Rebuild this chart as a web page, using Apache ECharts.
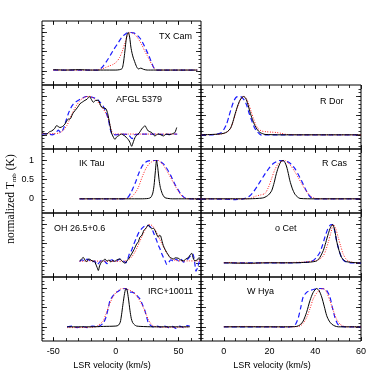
<!DOCTYPE html>
<html>
<head>
<meta charset="utf-8">
<script src="https://cdn.jsdelivr.net/npm/echarts@6/dist/echarts.min.js"></script>
<style>
  html, body { margin: 0; padding: 0; background: #fff; }
  #chart { width: 382px; height: 382px; }
</style>
</head>
<body>
<div id="chart"></div>
<script>
// ---- data: [velocity km/s, normalized T] ----
const panelNames = ['TX Cam', 'AFGL 5379', 'IK Tau', 'OH 26.5+0.6', 'IRC+10011', 'R Dor', 'R Cas', 'o Cet', 'W Hya']

const leftTicks = [-50, -40, -30, -20, -10, 0, 10, 20, 30, 40, 50, 60]
const leftMajorTicks = [-50, 0, 50]
const rightTicks = [-5, 0, 5, 10, 15, 20, 25, 30, 35, 40, 45, 50, 55]
const rightMajorTicks = [0, 20, 40, 60]
const yTicks = [-0.3, -0.2, -0.1, 0, 0.1, 0.2, 0.3, 0.4, 0.5, 0.6, 0.7, 0.8, 0.9, 1, 1.1, 1.2]
const yMajorTicks = [0, 0.5, 1]

const txCamBlack = [[-50,0.03],[-40,0.02],[-30,0.03],[-20,0.02],[-10,0.02],[0,0.02],[3,0.03],[5,0.06],[6,0.2],[7,0.45],[8,0.75],[9,0.95],[10,1.0],[11,0.88],[12,0.62],[13,0.45],[14,0.33],[15,0.24],[16,0.15],[17,0.08],[18,0.05],[19,0.06],[20,0.07],[22,0.04],[25,0.02],[30,0.02],[40,0.02],[50,0.02],[65,0.02]]
const txCamRed = [[-50,0.02],[-30,0.02],[-15,0.02],[-12,0.04],[-8,0.09],[-5,0.13],[-2,0.17],[1,0.25],[3,0.35],[5,0.5],[7,0.7],[9,0.9],[11,1.0],[13,0.99],[15,0.95],[17,0.88],[19,0.78],[21,0.66],[23,0.52],[25,0.4],[27,0.27],[29,0.15],[31,0.05],[33,0.02],[40,0.02],[50,0.02],[65,0.02]]
const txCamBlue = [[-50,0.02],[-30,0.02],[-14,0.02],[-12,0.06],[-10,0.13],[-8,0.22],[-6,0.32],[-4,0.43],[-2,0.54],[0,0.64],[2,0.74],[4,0.84],[6,0.92],[8,0.97],[10,1.0],[12,1.0],[14,0.99],[16,0.96],[18,0.9],[20,0.82],[22,0.7],[24,0.56],[26,0.42],[28,0.26],[30,0.1],[32,0.02],[40,0.02],[50,0.02],[65,0.02]]

const afglBlack = [[-59,0.06],[-57,0.03],[-55.3,0.02],[-53,0.08],[-51.3,0.1],[-49,0.16],[-47.3,0.24],[-44.6,0.19],[-42.5,0.22],[-40.7,0.28],[-38,0.41],[-36.7,0.41],[-34.5,0.55],[-32.7,0.63],[-30.5,0.72],[-28.7,0.81],[-26.5,0.86],[-24.7,0.9],[-23,0.93],[-21.2,1.0],[-19.5,0.92],[-18,0.85],[-16,0.9],[-14,0.9],[-12.6,0.8],[-11.4,0.72],[-9.5,0.7],[-7.9,0.68],[-6.5,0.55],[-5,0.3],[-3.5,0.05],[-2,-0.06],[-0.7,-0.12],[0.5,-0.06],[1.9,-0.03],[3.2,0.0],[4.6,0.02],[6,-0.01],[7.3,-0.03],[8.6,-0.08],[9.9,-0.12],[11.3,-0.2],[12.6,-0.3],[14,-0.18],[15.3,-0.07],[16.6,-0.01],[17.9,0.02],[19.3,0.08],[20.6,0.15],[22,0.2],[23.2,0.24],[24.5,0.17],[25.9,0.1],[27.2,0.08],[28.6,0.06],[30,0.0],[31.2,-0.03],[32.5,0.0],[33.9,0.02],[36,0.0],[37.9,-0.03],[39.3,0.0],[40.6,0.02],[42.5,0.0],[44.6,0.02],[46,0.04],[47.2,0.06],[48.6,0.19]]
const afglRed = [[-59,0.03],[-50,0.03],[-45,0.05],[-42,0.12],[-39,0.25],[-37,0.4],[-35,0.55],[-33,0.68],[-31,0.79],[-29,0.88],[-27,0.94],[-25,0.98],[-23,1.0],[-21,1.0],[-19,0.98],[-17,0.94],[-15,0.88],[-13,0.8],[-11,0.72],[-9,0.62],[-7,0.5],[-5,0.3],[-3.5,0.1],[-2,0.03],[0,0.02],[10,0.02],[20,0.02],[30,0.02],[40,0.02],[49,0.02]]
const afglBlue = [[-59,0.02],[-55,0.03],[-51,0.0],[-48,0.05],[-46,0.12],[-44,0.06],[-42,0.15],[-40,0.35],[-38,0.55],[-36,0.7],[-34,0.8],[-32,0.86],[-30,0.9],[-28,0.94],[-26,0.97],[-24,1.0],[-22,1.0],[-20,0.99],[-18,0.97],[-16,0.95],[-14,0.9],[-12,0.83],[-10,0.74],[-8,0.6],[-6,0.4],[-4.5,0.15],[-3,0.02],[0,0.0],[5,0.02],[10,0.0],[13,-0.1],[15,0.0],[20,0.02],[30,0.02],[40,0.01],[49,0.02]]

const ikTauBlack = [[-29,0],[-10,0],[0,0],[10,0],[20,0],[26,0.01],[28,0.04],[29.5,0.15],[30.5,0.35],[31.5,0.7],[32.5,1.0],[33.5,0.8],[34.5,0.5],[35.5,0.3],[37,0.14],[38.5,0.05],[40,0.02],[45,0],[55,0],[68,0]]
const ikTauRed = [[-29,0],[0,0],[10,0.01],[12,0.03],[14,0.1],[16,0.18],[18,0.3],[20,0.48],[22,0.65],[24,0.79],[26,0.89],[28,0.95],[30,0.99],[32,1.0],[34,1.0],[36,0.95],[38,0.87],[40,0.77],[42,0.66],[44,0.54],[46,0.42],[48,0.3],[50,0.19],[52,0.1],[54,0.04],[56,0.01],[60,0],[68,0]]
const ikTauBlue = [[-29,0],[0,0],[8,0.01],[10,0.05],[12,0.16],[14,0.3],[16,0.46],[18,0.64],[20,0.79],[22,0.9],[24,0.96],[26,0.99],[28,1.0],[32,1.0],[34,0.99],[36,0.96],[38,0.91],[40,0.83],[42,0.72],[44,0.6],[46,0.46],[48,0.33],[50,0.22],[52,0.12],[54,0.05],[56,0.01],[60,0],[68,0]]

const ohBlack = [[-28.7,0.05],[-27.5,0.1],[-26,0.14],[-24.5,0.06],[-23.3,0.03],[-22,0.1],[-20.7,0.09],[-19,0.05],[-17.5,0.04],[-16.5,0.0],[-15,-0.12],[-14,-0.2],[-13,-0.08],[-11.4,0.03],[-10,0.06],[-8.7,0.1],[-7,0.04],[-5.5,0.08],[-4,0.02],[-2.5,0.06],[-1,0.04],[1,0.08],[3.3,0.1],[5,0.04],[7.3,-0.01],[9,0.06],[10.5,0.12],[12,0.2],[13.9,0.31],[15,0.38],[16.6,0.49],[18,0.55],[19.2,0.67],[20.8,0.72],[22.4,0.85],[24,0.9],[25.9,0.99],[27.2,0.93],[28.6,0.89],[30,0.9],[31.2,0.85],[32.5,0.75],[33.9,0.67],[35,0.72],[35.8,0.7],[37,0.55],[37.9,0.45],[39.3,0.35],[40.6,0.27],[42,0.2],[43.2,0.14],[44.5,0.12],[45.9,0.1],[47.5,0.13],[49.8,0.12],[51.5,0.08],[53.8,0.05],[56,0.1],[58,0.14],[59.2,0.2],[60.5,0.25],[62,0.1],[63.2,0.05],[65,0.08],[66.5,0.14],[68,0.06]]
const ohRed = [[-29,0.04],[-20,0.05],[-10,0.04],[0,0.04],[5,0.04],[9,0.06],[11,0.1],[13,0.17],[15,0.27],[17,0.4],[19,0.55],[21,0.7],[23,0.84],[25,0.95],[27,1.0],[29,0.97],[31,0.88],[33,0.76],[35,0.62],[37,0.48],[39,0.35],[41,0.24],[43,0.15],[45,0.1],[48,0.06],[52,0.05],[58,0.05],[68,0.05]]
const ohBlue = [[-29,0.03],[-27,0.08],[-25,0.04],[-23,0.1],[-21,0.06],[-19,0.02],[-17,0.05],[-15,-0.05],[-13,0.02],[-11,0.08],[-9,0.04],[-7,-0.02],[-5,0.05],[-3,0.08],[-1,0.02],[1,0.05],[3,0.1],[5,0.06],[7,0.03],[8,0.0],[9.5,0.1],[11,0.25],[12.6,0.33],[14.5,0.5],[16.6,0.67],[18.5,0.8],[20.6,0.89],[22.5,0.95],[24.6,0.98],[26.5,0.97],[28.6,0.9],[30.5,0.75],[32.6,0.58],[34,0.45],[35.3,0.36],[36.5,0.25],[38,0.14],[39.5,0.04],[40.6,-0.04],[42,0.0],[44,0.08],[46,0.04],[48,0.1],[50,0.05],[52,0.1],[54,0.02],[56,0.06],[58,0.12],[60,0.2],[61.5,0.23],[63,0.0],[64,-0.22],[65.5,-0.1],[67,0.05],[68,0.02]]

const ircBlack = [[-39,0],[-30,0.0],[-20,0.0],[-10,0.01],[0,0.02],[2,0.04],[3.5,0.12],[4.6,0.33],[5.5,0.55],[6.5,0.78],[7.5,0.96],[8.1,1.0],[9,0.95],[10,0.75],[11.3,0.42],[12.3,0.22],[13.4,0.11],[15,0.05],[16.6,0.02],[20,0.01],[30,0.0],[40,0.0],[50,0.0],[59,0.0]]
const ircRed = [[-39,-0.02],[-30,-0.02],[-20,-0.01],[-16,0.0],[-14,0.04],[-12,0.09],[-10,0.16],[-8,0.33],[-6,0.51],[-4,0.67],[-2,0.8],[0,0.89],[2,0.95],[4,0.99],[6,1.0],[8,0.99],[10,0.97],[12,0.94],[14,0.9],[16,0.83],[18,0.74],[20,0.63],[22,0.5],[24,0.34],[26,0.19],[28,0.08],[30,0.02],[33,0.0],[40,-0.01],[50,-0.01],[59,0.0]]
const ircBlue = [[-39,0.0],[-35,0.02],[-31,-0.02],[-27,0.01],[-23,-0.02],[-19,0.02],[-15,0.0],[-12.7,0.03],[-10,0.1],[-7.9,0.25],[-6,0.5],[-4.7,0.69],[-2.5,0.8],[-0.7,0.87],[1.5,0.92],[3.3,0.96],[5.5,0.99],[7.3,1.0],[9.5,0.96],[11.3,0.91],[13.5,0.9],[15.3,0.87],[17.3,0.8],[19.2,0.73],[21.2,0.58],[23.2,0.42],[24.6,0.25],[25.9,0.11],[28,0.03],[30,0.0],[33,0.02],[36,-0.01],[39,0.02],[42,-0.02],[45,0.01],[48,-0.04],[51,0.02],[54,-0.02],[57,0.03],[59,0.02]]

const rDorBlack = [[-10,0.0],[-5,0.01],[-2,0.02],[0,0.04],[1.5,0.08],[3,0.18],[4,0.35],[5,0.56],[6,0.75],[7,0.9],[8,0.98],[8.5,1.0],[9.5,0.96],[10.5,0.8],[11.4,0.6],[12.5,0.4],[13.6,0.24],[14.7,0.13],[15.8,0.06],[17,0.03],[18,0.01],[25,0.0],[35,0.0],[45,0.0],[60,0.0]]
const rDorRed = [[-10,0.0],[-4,0.01],[-1,0.02],[1,0.06],[2.5,0.13],[4,0.33],[5,0.53],[6,0.72],[7,0.88],[8,0.98],[9,1.0],[10,0.93],[11,0.78],[12,0.6],[13,0.42],[14,0.26],[15,0.16],[16.5,0.1],[18.5,0.08],[21,0.07],[23,0.06],[25,0.04],[27.5,0.01],[35,0.0],[45,0.0],[60,0.0]]
const rDorBlue = [[-10,0.0],[-5,0.0],[-3,0.02],[-1,0.06],[0,0.14],[1.2,0.28],[2.3,0.5],[3.4,0.72],[4.5,0.9],[5.6,0.99],[7,1.0],[7.8,0.98],[9,0.9],[10,0.77],[11,0.57],[12.2,0.37],[13.3,0.2],[14.3,0.1],[15.5,0.03],[16.5,-0.01],[18,0.0],[25,0.0],[35,0.0],[45,0.0],[60,0.0]]

const rCasBlack = [[-10,0.0],[0,0.0],[10,0.0],[15,0.01],[17.5,0.03],[19.5,0.1],[20.9,0.21],[22,0.42],[22.8,0.62],[23.7,0.8],[24.5,0.92],[25.2,0.99],[26,1.0],[26.8,0.94],[27.5,0.83],[28.2,0.66],[28.9,0.47],[30,0.26],[31.1,0.12],[32.2,0.05],[33.3,0.01],[40,0.0],[50,0.0],[60,0.0]]
const rCasRed = [[-10,0.0],[0,0.0],[10,0.0],[12,0.02],[14,0.07],[16,0.1],[18,0.14],[19.5,0.3],[20.9,0.53],[22.3,0.76],[23.8,0.92],[25.3,0.98],[26.7,1.0],[28.2,0.93],[29.7,0.83],[31.1,0.7],[32.5,0.56],[34,0.4],[35.5,0.25],[37,0.13],[38.4,0.05],[40,0.01],[45,0.0],[60,0.0]]
const rCasBlue = [[-10,0.0],[0,-0.01],[5,-0.02],[8.5,0.0],[10,0.03],[11.4,0.08],[12.9,0.18],[14.3,0.3],[16,0.46],[18,0.65],[19.8,0.8],[21.6,0.92],[23,0.97],[24.5,1.0],[26.3,0.99],[28.2,0.96],[29.7,0.89],[31.1,0.79],[32.5,0.64],[34,0.47],[35.5,0.28],[36.9,0.12],[38,0.04],[39.1,0.0],[45,0.0],[60,0.0]]

const oCetBlack = [[0,0.0],[10,-0.01],[20,0.0],[30,0.0],[35,0.01],[38,0.02],[40.6,0.05],[42,0.14],[43.5,0.32],[44.6,0.53],[45.7,0.76],[46.7,0.93],[47.6,1.0],[48.5,0.85],[49.3,0.58],[50.4,0.32],[51.5,0.14],[52.6,0.06],[53.7,0.03],[56,0.01],[60,0.0]]
const oCetRed = [[0,0.0],[3,0.01],[6,-0.01],[9,0.0],[12,-0.02],[16,0.0],[20,0.01],[25,0.0],[30,0.01],[35,0.02],[38,0.04],[40.6,0.06],[42,0.1],[43.5,0.18],[44.6,0.33],[45.7,0.54],[46.8,0.78],[47.9,1.0],[49,0.88],[50,0.67],[51.1,0.44],[52.2,0.23],[53.3,0.11],[54.4,0.05],[56.6,0.01],[60,0.0]]
const oCetBlue = [[0,0.0],[10,0.0],[20,0.0],[30,0.0],[35,0.01],[37.5,0.03],[39.1,0.06],[40.5,0.14],[42,0.27],[43.1,0.45],[44.2,0.67],[45.3,0.86],[46.4,0.98],[47.2,1.0],[47.9,0.97],[48.6,0.8],[49.3,0.58],[50.4,0.32],[51.5,0.14],[52.6,0.05],[53.7,0.02],[56,0.0],[60,0.0]]

const wHyaBlack = [[0,0.0],[10,0.0],[20,0.0],[28,0.0],[31.8,0.01],[33.3,0.05],[34.7,0.15],[36.2,0.38],[37.7,0.69],[39.1,0.9],[40.6,1.0],[41.7,0.94],[42.8,0.78],[43.9,0.54],[45,0.29],[46.1,0.15],[47.2,0.07],[48.6,0.02],[50.1,0.0],[55,0.0],[60,0.0]]
const wHyaRed = [[0,0.0],[10,0.01],[20,0.0],[30,0.0],[33.3,0.02],[34.8,0.1],[36.2,0.24],[37.7,0.48],[39.1,0.73],[40.6,0.88],[42,0.96],[43.5,1.0],[45,0.9],[46.4,0.68],[47.9,0.42],[49.3,0.2],[50.8,0.07],[52.2,0.02],[53.7,0.0],[60,0.0]]
const wHyaBlue = [[0,0.0],[10,0.0],[20,0.0],[25,-0.01],[30.4,0.01],[31.5,0.08],[32.6,0.24],[33.7,0.52],[34.7,0.78],[36.2,0.9],[37.7,0.95],[39.5,0.98],[41.3,1.0],[42.8,1.0],[44.2,0.98],[45.3,0.92],[46.4,0.78],[47.5,0.5],[48.6,0.24],[49.7,0.08],[50.8,0.02],[53,0.0],[60,0.0]]

const panelData = [
  [txCamBlack, txCamRed, txCamBlue],
  [afglBlack, afglRed, afglBlue],
  [ikTauBlack, ikTauRed, ikTauBlue],
  [ohBlack, ohRed, ohBlue],
  [ircBlack, ircRed, ircBlue],
  [rDorBlack, rDorRed, rDorBlue],
  [rCasBlack, rCasRed, rCasBlue],
  [oCetBlack, oCetRed, oCetBlue],
  [wHyaBlack, wHyaRed, wHyaBlue],
]

// ---- layout ----
const SANS = '"Liberation Sans", Arial, sans-serif'
const SERIF = '"Liberation Serif", "Times New Roman", serif'
const PANEL_H = 64
const TOP0 = 21
// column, row for each panel
const slots = [[0, 0], [0, 1], [0, 2], [0, 3], [0, 4], [1, 1], [1, 2], [1, 3], [1, 4]]
const cols = [
  { left: 42, width: 159, min: -59, max: 68, ticks: leftTicks, major: leftMajorTicks },
  { left: 201, width: 160, min: -10, max: 60, ticks: rightTicks, major: rightMajorTicks },
]
// name label anchor (left x, middle y)
const namePos = [[159, 37], [116, 100], [79, 164], [54, 229], [148, 292], [320, 102], [322, 164], [275, 229], [247, 292]]

const tickLine = { color: '#000', width: 0.8 }

function xAx(g, c, position, ticks, len, labels) {
  return {
    type: 'value', gridIndex: g, position, min: c.min, max: c.max,
    axisLine: { show: false, onZero: false },
    splitLine: { show: false },
    axisTick: { show: true, inside: true, length: len, customValues: ticks, lineStyle: tickLine },
    axisLabel: labels
      ? { show: true, customValues: labels, margin: 6, fontSize: 9, fontFamily: SANS, color: '#000' }
      : { show: false },
  }
}
function yAx(g, position, ticks, len, labels) {
  return {
    type: 'value', gridIndex: g, position, min: -0.37, max: 1.3,
    axisLine: { show: false, onZero: false },
    splitLine: { show: false },
    axisTick: { show: true, inside: true, length: len, customValues: ticks, lineStyle: tickLine },
    axisLabel: labels
      ? { show: true, customValues: labels, margin: 8, fontSize: 9, fontFamily: SANS, color: '#000' }
      : { show: false },
  }
}

const grid = [], xAxis = [], yAxis = [], series = [], graphic = []

panelNames.forEach((name, p) => {
  const [ci, row] = slots[p]
  const c = cols[ci]
  const isBottom = row === 4
  grid.push({
    left: c.left, top: TOP0 + row * PANEL_H, width: c.width, height: PANEL_H,
    show: true, borderColor: '#000', borderWidth: 1, backgroundColor: 'transparent',
  })
  xAxis.push(
    xAx(p, c, 'bottom', c.major, 4, isBottom ? c.major : null),
    xAx(p, c, 'bottom', c.ticks, 3, null),
    xAx(p, c, 'top', c.major, 4, null),
    xAx(p, c, 'top', c.ticks, 3, null),
  )
  yAxis.push(
    yAx(p, 'left', yMajorTicks, 5, name === 'IK Tau' ? yMajorTicks : null),
    yAx(p, 'left', yTicks, 2.5, null),
    yAx(p, 'right', yMajorTicks, 5, null),
    yAx(p, 'right', yTicks, 2.5, null),
  )
  const [black, red, blue] = panelData[p]
  const base = { type: 'line', xAxisIndex: 4 * p, yAxisIndex: 4 * p, showSymbol: false, symbol: 'none', smooth: 0.25, animation: false, silent: true }
  series.push(
    { ...base, data: blue, lineStyle: { color: '#1a1aff', width: 1.2, type: [5, 3] }, z: 2 },
    { ...base, data: red, lineStyle: { color: '#ff2020', width: 1, type: [1, 1.5] }, z: 3 },
    { ...base, data: black, lineStyle: { color: '#000', width: 1 }, z: 4 },
  )
  graphic.push({
    type: 'text', x: namePos[p][0], y: namePos[p][1],
    style: { text: name, font: '9px ' + SANS, fill: '#000', verticalAlign: 'middle' },
  })
})

graphic.push(
  { type: 'text', x: 112, y: 366, style: { text: 'LSR velocity (km/s)', font: '9px ' + SANS, fill: '#000', align: 'center', verticalAlign: 'middle' } },
  { type: 'text', x: 272, y: 366, style: { text: 'LSR velocity (km/s)', font: '9px ' + SANS, fill: '#000', align: 'center', verticalAlign: 'middle' } },
  {
    type: 'text', x: 11, y: 199, rotation: Math.PI / 2,
    style: {
      text: '{a|normalized T}{b|mb}{a| (K)}', align: 'center', verticalAlign: 'middle', fill: '#000',
      rich: {
        a: { fontFamily: SERIF, fontSize: 11.5, lineHeight: 14 },
        b: { fontFamily: SERIF, fontSize: 7, verticalAlign: 'bottom', lineHeight: 8 },
      },
    },
  },
)

const chart = echarts.init(document.getElementById('chart'), null, { renderer: 'canvas' })
chart.setOption({ backgroundColor: '#fff', animation: false, grid, xAxis, yAxis, series, graphic })
</script>
</body>
</html>
